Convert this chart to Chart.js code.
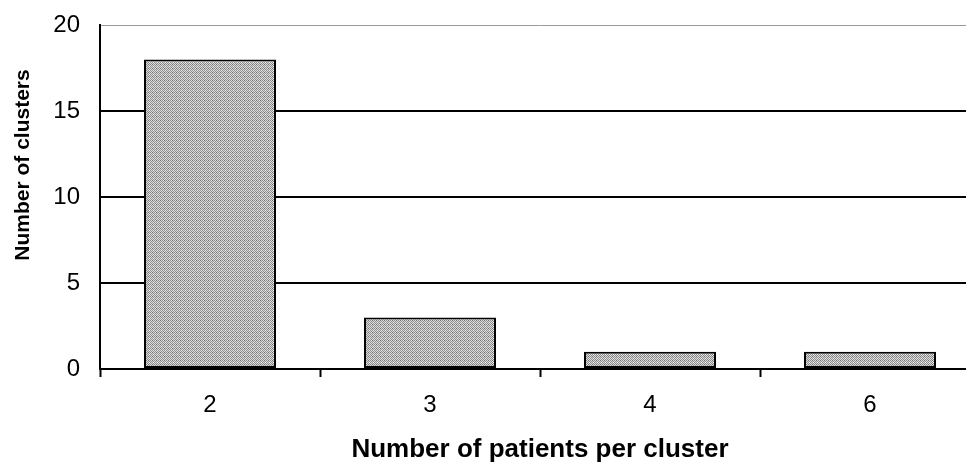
<!DOCTYPE html>
<html>
<head>
<meta charset="utf-8">
<script src="https://cdn.jsdelivr.net/npm/chart.js@4.4.0/dist/chart.umd.min.js"></script>
<style>
  html, body { margin: 0; padding: 0; background: #fff; overflow: hidden; }
  #wrap { width: 990px; height: 463px; }
</style>
</head>
<body>
<div id="wrap"><canvas id="grafico"></canvas></div>
<script>
// ========= Datos =========
const categorias = ["2", "3", "4", "6"];
const clusters = [18, 3, 1, 1];
const ticksY = [0, 5, 10, 15, 20];
const tituloX = "Number of patients per cluster";
const tituloY = "Number of clusters";

// ========= Relleno punteado de las barras =========
function crearPatron() {
    const c = document.createElement("canvas");
    c.width = 4; c.height = 4;
    const g = c.getContext("2d");
    for (let y = 0; y < 4; y++) {
        for (let x = 0; x < 4; x++) {
            const oscuro = (x + y) % 2 === 0;
            g.fillStyle = oscuro ? ((x === 0 && y === 0) ? "#6e6e6e" : "#8c8c8c") : ((x === 1 && y === 2) ? "#f4f4f4" : "#dcdcdc");
            g.fillRect(x, y, 1, 1);
        }
    }
    return g.createPattern(c, "repeat");
}

const fuente = "'Liberation Sans', Arial, sans-serif";

// Título vertical dibujado a mano (el original no está centrado en el eje)
const tituloVertical = {
    id: "tituloVertical",
    afterDraw(chart) {
        const c = chart.ctx;
        c.save();
        c.translate(23, 165);
        c.rotate(-Math.PI / 2);
        c.font = "bold 21px " + fuente;
        c.fillStyle = "#000";
        c.textAlign = "center";
        c.textBaseline = "middle";
        c.fillText(tituloY, 0, 0);
        c.restore();
    }
};

const ctx = document.getElementById("grafico").getContext("2d");
new Chart(ctx, {
    type: "bar",
    data: {
        labels: categorias,
        datasets: [{
            data: clusters,
            backgroundColor: crearPatron(),
            borderColor: "#000",
            borderWidth: 2,
            borderSkipped: false,
            barPercentage: 0.6,
            categoryPercentage: 1.0
        }]
    },
    plugins: [tituloVertical],
    options: {
        responsive: true,
        maintainAspectRatio: false,
        animation: false,
        layout: { padding: { top: 25, right: 10, left: 0, bottom: 0 } },
        plugins: { legend: { display: false }, tooltip: { enabled: false } },
        scales: {
            x: {
                grid: { offset: true, drawOnChartArea: false, drawTicks: true, tickLength: 8, tickColor: "#000", tickWidth: 2 },
                border: { display: true, color: "#000", width: 2 },
                ticks: { color: "#000", font: { family: fuente, size: 24 }, padding: 14 },
                title: { display: true, text: tituloX, color: "#000",
                         font: { family: fuente, size: 26, weight: "bold" }, padding: { top: 0, bottom: -2 } },
                afterFit: s => { s.height = 94; s.paddingLeft = 0; s.paddingRight = 0; }
            },
            y: {
                min: 0, max: 20,
                afterBuildTicks: s => { s.ticks = ticksY.map(v => ({ value: v })); },
                grid: {
                    drawTicks: false,
                    color: c => c.tick && c.tick.value === 20 ? "#9a9a9a" : "#000",
                    lineWidth: c => c.tick && c.tick.value === 20 ? 1 : 2
                },
                border: { display: true, color: "#000", width: 2 },
                ticks: { color: "#000", font: { family: fuente, size: 24 }, padding: 20 },
                afterFit: s => { s.width = 100; s.paddingTop = 0; s.paddingBottom = 0; }
            }
        }
    }
});
</script>
</body>
</html>
